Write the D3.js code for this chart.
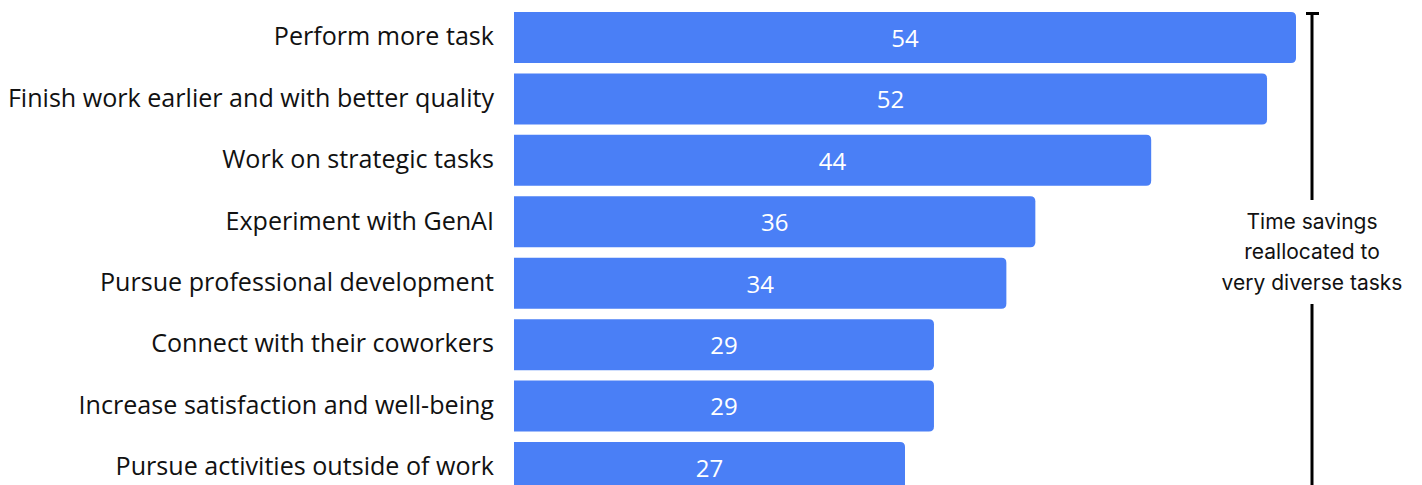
<!DOCTYPE html>
<html>
<head>
<meta charset="utf-8">
<script src="https://cdn.jsdelivr.net/npm/d3@7"></script>
<style>
  body { margin: 0; background: #fff; }
  svg { display: block; }
</style>
</head>
<body>
<div class="chart"></div>
<script>
// data
var categories = [
  "Perform more task",
  "Finish work earlier and with better quality",
  "Work on strategic tasks",
  "Experiment with GenAI",
  "Pursue professional development",
  "Connect with their coworkers",
  "Increase satisfaction and well-being",
  "Pursue activities outside of work"
];
var values = [54, 52, 44, 36, 34, 29, 29, 27];
var noteLines = ["Time savings", "reallocated to", "very diverse tasks"];

var data = categories.map(function (c, i) { return { name: c, value: values[i] }; });

var width = 1422, height = 485;

var svg = d3.select(".chart").append("svg")
    .attr("width", width)
    .attr("height", height);

var x = d3.scaleLinear()
    .domain([0, 54])
    .range([514, 1296]);

var y = d3.scaleBand()
    .domain(categories)
    .range([6.8, 498.2])
    .paddingInner(0.17)
    .paddingOuter(0.085);

// bar with rounded right corners only
function barPath(d)
{
  var x0 = x(0), x1 = x(d.value), y0 = y(d.name), h = y.bandwidth(), r = 5;
  return "M" + x0 + "," + y0 +
    "H" + (x1 - r) +
    "Q" + x1 + "," + y0 + " " + x1 + "," + (y0 + r) +
    "V" + (y0 + h - r) +
    "Q" + x1 + "," + (y0 + h) + " " + (x1 - r) + "," + (y0 + h) +
    "H" + x0 + "Z";
}

svg.selectAll("path.bar")
    .data(data)
    .enter()
        .append("path")
        .attr("class", "bar")
        .attr("d", barPath)
        .attr("fill", "#4a7ff6");

svg.selectAll("text.val")
    .data(data)
    .enter()
        .append("text")
        .attr("class", "val")
        .attr("x", function (d) { return (x(0) + x(d.value)) / 2; })
        .attr("y", function (d) { return y(d.name) + y.bandwidth() / 2 + 3; })
        .attr("text-anchor", "middle")
        .attr("dominant-baseline", "middle")
        .attr("font-family", "'Open Sans', sans-serif")
        .attr("font-size", 24)
        .attr("fill", "#ffffff")
        .text(function (d) { return d.value; });

svg.selectAll("text.cat")
    .data(data)
    .enter()
        .append("text")
        .attr("class", "cat")
        .attr("x", 494)
        .attr("y", function (d) { return y(d.name) + y.bandwidth() / 2 + 1; })
        .attr("text-anchor", "end")
        .attr("dominant-baseline", "middle")
        .attr("font-family", "'Open Sans', sans-serif")
        .attr("font-size", 25.1)
        .attr("fill", "#111")
        .text(function (d) { return d.name; });

// bracket on the right
var bx = 1312;
svg.append("line")
    .attr("x1", bx - 6).attr("x2", bx + 7)
    .attr("y1", 13.5).attr("y2", 13.5)
    .attr("stroke", "#000").attr("stroke-width", 3);
svg.append("line")
    .attr("x1", bx).attr("x2", bx)
    .attr("y1", 13).attr("y2", 200)
    .attr("stroke", "#000").attr("stroke-width", 3);
svg.append("line")
    .attr("x1", bx).attr("x2", bx)
    .attr("y1", 304).attr("y2", height)
    .attr("stroke", "#000").attr("stroke-width", 3);

svg.selectAll("text.note")
    .data(noteLines)
    .enter()
        .append("text")
        .attr("class", "note")
        .attr("x", bx)
        .attr("y", function (d, i) { return 223 + i * 30.5; })
        .attr("text-anchor", "middle")
        .attr("dominant-baseline", "middle")
        .attr("font-family", "Inter, sans-serif")
        .attr("font-size", 21)
        .attr("fill", "#111")
        .text(function (d) { return d; });
</script>
</body>
</html>
